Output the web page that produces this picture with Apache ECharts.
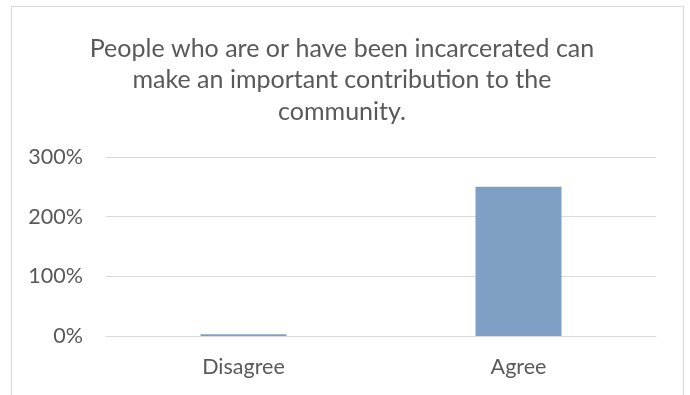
<!DOCTYPE html>
<html>
<head>
<meta charset="utf-8">
<script src="https://cdn.jsdelivr.net/npm/echarts@6/dist/echarts.min.js"></script>
<style>
  html, body { margin: 0; padding: 0; background: #fff; }
  #frame { position: absolute; left: 11px; top: 6px; width: 673px; height: 400px;
           border: 1px solid #d9d9d9; border-bottom: none; box-sizing: border-box; }
  #chart { position: absolute; left: 0; top: 0; width: 690px; height: 395px; }
</style>
</head>
<body>
<div id="frame"></div>
<div id="chart"></div>
<script>
// Survey responses, as a share of respondents
const categories = ['Disagree', 'Agree'];
const shares = [3, 250];
const yTicks = [0, 100, 200, 300];
const titleText = 'People who are or have been incarcerated can\nmake an important contribution to the\ncommunity.';

const font = 'Lato, "Open Sans", sans-serif';
const chart = echarts.init(document.getElementById('chart'), null, { renderer: 'canvas' });
chart.setOption({
  animation: false,
  title: {
    text: titleText,
    left: 337,
    top: 28,
    textAlign: 'center',
    textStyle: { fontFamily: font, fontSize: 25, fontWeight: 'normal', color: '#595959', lineHeight: 31.5 }
  },
  grid: { left: 106, right: 34, top: 157, bottom: 59, containLabel: false },
  xAxis: {
    type: 'category',
    data: categories,
    axisLine: { show: true, lineStyle: { color: '#d9d9d9', width: 1 } },
    axisTick: { show: false },
    axisLabel: { fontFamily: font, fontSize: 21.5, color: '#595959', margin: 20 }
  },
  yAxis: {
    type: 'value',
    min: yTicks[0],
    max: yTicks[yTicks.length - 1],
    interval: 100,
    axisLine: { show: false },
    axisTick: { show: false },
    splitLine: { lineStyle: { color: '#d9d9d9', width: 1 } },
    axisLabel: { fontFamily: font, fontSize: 21.5, color: '#595959', margin: 23, formatter: v => v + '%' }
  },
  series: [{
    type: 'bar',
    data: shares,
    barWidth: 86,
    itemStyle: { color: '#7f9fc5' }
  }]
});
</script>
</body>
</html>
